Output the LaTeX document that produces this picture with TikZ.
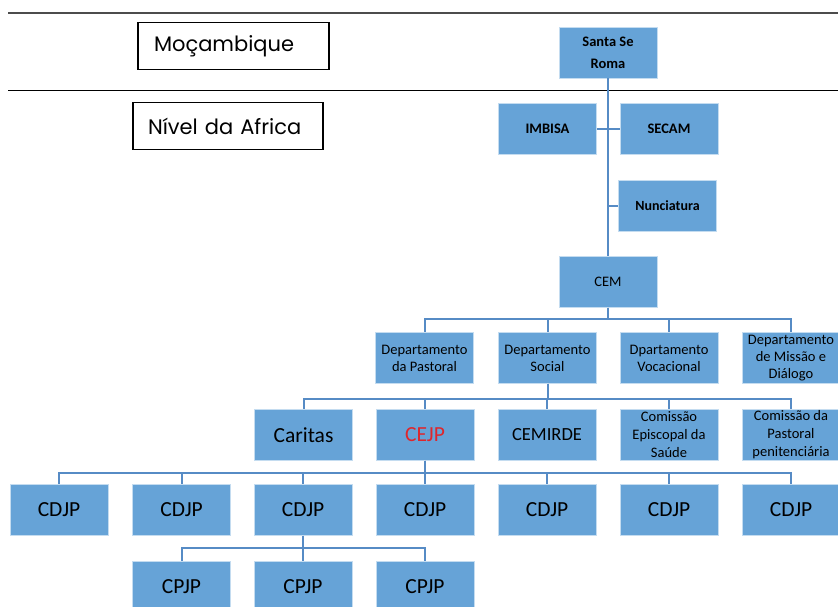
\documentclass[tikz,border=0pt]{standalone}
\usepackage{fontspec}
\setmainfont{Carlito}
\newfontfamily\gothic{Poppins}
\usetikzlibrary{positioning}
\definecolor{boxblue}{RGB}{102,163,215}
\definecolor{boxedge}{RGB}{196,220,240}
\definecolor{linkblue}{RGB}{86,139,197}
\definecolor{cejpred}{RGB}{222,38,44}

\begin{document}
\begin{tikzpicture}[x=1pt, y=-1pt,
    every node/.style={font=\fontsize{14.5}{17}\selectfont},
    unit/.style={rectangle, draw=boxedge, line width=0.8pt, fill=boxblue, minimum width=98pt, minimum height=51pt, inner sep=1pt, align=center},
    bigunit/.style={unit, font=\fontsize{21.5}{24}\selectfont},
    levelbox/.style={rectangle, draw=black, line width=1.8pt, minimum height=47pt, align=left, font=\gothic\fontsize{21}{24}\selectfont},
    link/.style={draw=linkblue, line width=2pt}
  ]
  \useasboundingbox (0,0) rectangle (838,606);

  % level separators
  \draw[black!70, line width=1.6pt] (8,13) -- (838,13);
  \draw[black, line width=1pt] (8,90) -- (838,90);
  \node[levelbox, inner xsep=16pt, text width=159pt] (moz) at (233.5,46) {Moçambique};
  \node[levelbox, inner xsep=15pt, text width=160pt] (afr) at (228,126) {Nível da Africa};

  % top of the tree
  \node[unit, font=\bfseries\fontsize{14.5}{22}\selectfont] (santa) at (608,52.5) {Santa Se\\Roma};
  \node[unit, font=\bfseries\fontsize{14.5}{17}\selectfont] (imbisa) at (547.5,129) {IMBISA};
  \node[unit, font=\bfseries\fontsize{14.5}{17}\selectfont] (secam) at (669,129) {SECAM};
  \node[unit, font=\bfseries\fontsize{14}{17}\selectfont] (nunc) at (667.5,205.5) {Nunciatura};
  \node[unit] (cem) at (608,282) {CEM};

  \draw[link] (santa.south) -- (cem.north);
  \draw[link] (imbisa.east) -- (secam.west);
  \draw[link] (nunc.west) -- (nunc.west -| santa.south);

  % departments
  \node[unit] (dpast) at (424.5,358) {Departamento\\da Pastoral};
  \node[unit] (dsoc) at (547.5,358) {Departamento\\Social};
  \node[unit] (dvoc) at (669,358) {Dpartamento\\Vocacional};
  \node[unit] (dmis) at (791,358) {Departamento\\de Missão e\\Diálogo};
  \foreach \dep in {dpast,dsoc,dvoc,dmis}
    \draw[link] (cem.south) -- ++(0,11) -| (\dep.north);

  % commissions under the social department
  \node[bigunit] (caritas) at (303.5,435) {Caritas};
  \node[bigunit, text=cejpred] (cejp) at (425,435) {CEJP};
  \node[unit, font=\fontsize{18.5}{22}\selectfont] (cemirde) at (547,435) {CEMIRDE};
  \node[unit, font=\fontsize{14.5}{18}\selectfont] (saude) at (669,435) {Comissão\\Episcopal da\\Saúde};
  \node[unit, font=\fontsize{14.5}{18}\selectfont] (penit) at (791,435) {Comissão da\\Pastoral\\penitenciária};
  \foreach \com in {caritas,cejp,cemirde,saude,penit}
    \draw[link] (dsoc.south) -- ++(0,15) -| (\com.north);

  % diocesan commissions
  \foreach \i/\xpos in {1/59,2/181.5,3/303,4/425,5/547,6/669,7/791}
    \node[bigunit] (cdjp\i) at (\xpos,510) {CDJP};
  \foreach \i in {1,...,7}
    \draw[link] (cejp.south) -- ++(0,12) -| (cdjp\i.north);

  % parish commissions
  \foreach \i/\xpos in {1/181.5,2/303,3/425}
    \node[bigunit] (cpjp\i) at (\xpos,586.5) {CPJP};
  \foreach \i in {1,2,3}
    \draw[link] (cdjp3.south) -- ++(0,12) -| (cpjp\i.north);
\end{tikzpicture}
\end{document}
